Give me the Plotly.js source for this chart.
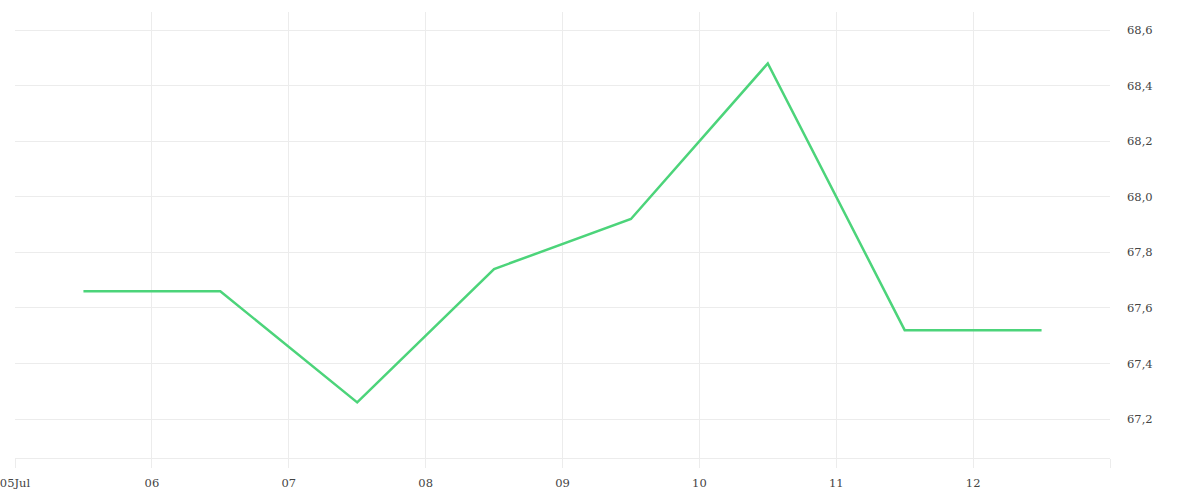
<!DOCTYPE html>
<html>
<head>
<meta charset="utf-8">
<script src="https://cdn.plot.ly/plotly-3.0.1.min.js"></script>
<style>
html, body { margin: 0; padding: 0; background: #fff; }
#chart { width: 1200px; height: 500px; }
</style>
</head>
<body>
<div id="chart"></div>
<script>
// one value per day, taken at noon
dates = ['2024-07-05 12:00', '2024-07-06 12:00', '2024-07-07 12:00', '2024-07-08 12:00',
         '2024-07-09 12:00', '2024-07-10 12:00', '2024-07-11 12:00', '2024-07-12 12:00'];
values = [67.66, 67.66, 67.26, 67.74, 67.92, 68.48, 67.52, 67.52];

tickDays = ['2024-07-05', '2024-07-06', '2024-07-07', '2024-07-08', '2024-07-09',
            '2024-07-10', '2024-07-11', '2024-07-12', '2024-07-13'];
tickLabels = ['05Jul', '06', '07', '08', '09', '10', '11', '12', ''];

chart = document.getElementById('chart');

Plotly.newPlot(chart, [{
    x: dates,
    y: values,
    type: 'scatter',
    mode: 'lines',
    line: { color: '#4cd47a', width: 2.5 },
    hoverinfo: 'x+y'
}], {
    width: 1200,
    height: 500,
    margin: { l: 15, r: 90, t: 12, b: 42 },
    paper_bgcolor: '#fff',
    plot_bgcolor: '#fff',
    separators: ',.',
    showlegend: false,
    font: { family: 'DejaVu Serif', size: 11.5, color: '#444' },
    xaxis: {
        type: 'date',
        range: ['2024-07-05', '2024-07-13'],
        tickmode: 'array',
        tickvals: tickDays,
        ticktext: tickLabels,
        ticklabeloverflow: 'allow',
        ticklabelstandoff: 5,
        showgrid: true,
        gridcolor: '#ececec',
        ticks: 'outside',
        ticklen: 9,
        tickcolor: '#ececec',
        showline: true,
        linecolor: '#ececec',
        zeroline: false,
        fixedrange: true
    },
    yaxis: {
        side: 'right',
        range: [67.06, 68.665],
        dtick: 0.2,
        tick0: 67.2,
        tickformat: '.1f',
        showgrid: true,
        gridcolor: '#ececec',
        zeroline: false,
        ticks: '',
        ticklabelstandoff: 16,
        fixedrange: true
    }
}, { displayModeBar: false, staticPlot: true });
</script>
</body>
</html>
